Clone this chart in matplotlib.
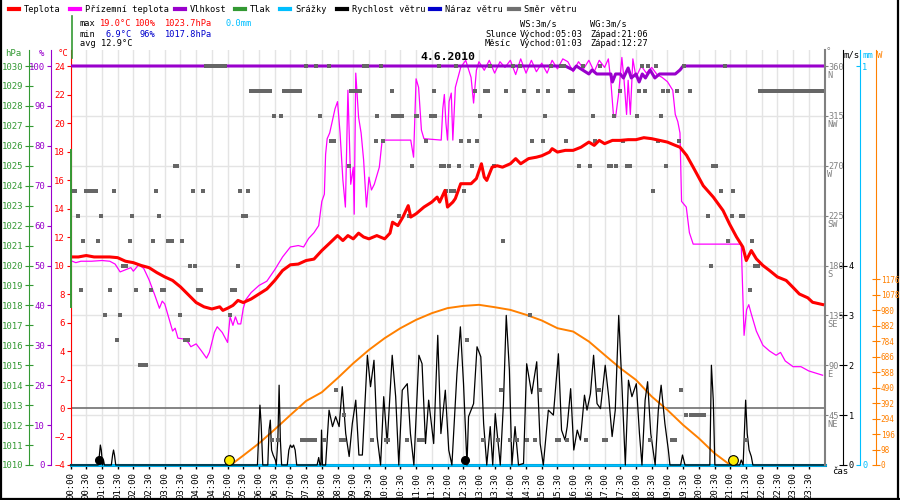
import matplotlib
matplotlib.use('Agg')
import matplotlib.pyplot as plt
from matplotlib.lines import Line2D

# ---------------- data ----------------
temp_t = [0.0, 0.25, 0.5, 0.75, 1.0, 1.25, 1.5, 1.75, 2.0, 2.25, 2.5, 2.75, 3.0, 3.25, 3.5, 3.75,
          4.0, 4.25, 4.5, 4.75, 4.85, 5.0, 5.17, 5.33, 5.5, 5.75, 6.0, 6.25, 6.5, 6.75, 7.0, 7.25,
          7.5, 7.75, 8.0, 8.25, 8.5, 8.67, 8.83, 9.0, 9.17, 9.33, 9.5, 9.75, 10.0, 10.17, 10.25,
          10.42, 10.58, 10.75, 10.83, 11.0, 11.25, 11.5, 11.67, 11.75, 11.92, 12.0, 12.17, 12.25,
          12.42, 12.75, 12.92, 13.08, 13.17, 13.25, 13.42, 13.58, 13.75, 14.0, 14.17, 14.33, 14.58,
          14.83, 15.0, 15.25, 15.33, 15.5, 15.75, 16.0, 16.25, 16.5, 16.67, 16.83, 17.0, 17.25,
          17.5, 17.75, 18.0, 18.25, 18.5, 18.75, 19.0, 19.25, 19.4, 19.61, 19.82, 20.14, 20.46,
          20.77, 20.98, 21.2, 21.4, 21.51, 21.67, 21.83, 22.04, 22.25, 22.5, 22.78, 22.99, 23.2,
          23.47, 23.62, 23.94]
temp_v = [10.6, 10.6, 10.7, 10.6, 10.6, 10.6, 10.55, 10.3, 10.2, 10.0, 9.85, 9.5, 9.2, 8.95, 8.5, 7.95,
          7.4, 7.1, 6.95, 7.1, 6.85, 7.0, 7.2, 7.55, 7.4, 7.65, 8.0, 8.35, 8.95, 9.65, 10.05, 10.1,
          10.35, 10.45, 11.05, 11.57, 12.1, 11.75, 12.1, 11.87, 12.27, 12.0, 11.87, 12.1, 11.87, 12.27, 13.04,
          12.8, 13.4, 14.2, 13.4, 13.63, 14.1, 14.45, 14.8, 14.45, 15.27, 14.1, 14.45, 14.7,
          15.74, 15.74, 16.1, 17.14, 16.2, 15.97, 16.9, 17.0, 16.9, 17.14, 17.5, 17.14, 17.5,
          17.6, 17.7, 17.96, 18.2, 17.96, 18.08, 18.08, 18.3, 18.66, 18.43, 18.78, 18.55, 18.78,
          18.78, 18.83, 18.83, 18.97, 18.9, 18.78, 18.66, 18.43, 18.3, 17.73, 16.9, 15.6, 14.8,
          13.86, 12.9, 12.0, 11.3, 10.35, 11.05, 10.47, 10.0, 9.65, 9.2, 8.95, 8.48, 8.0,
          7.73, 7.42, 7.26]

app_t = [0.0, 0.17, 0.33, 0.67, 1.0, 1.25, 1.42, 1.58, 1.75, 1.92, 2.0, 2.17, 2.33, 2.5, 2.67, 2.83,
         2.92, 3.0, 3.17, 3.25, 3.33, 3.42, 3.58, 3.75, 3.83, 4.0, 4.17, 4.33, 4.42, 4.58, 4.67, 4.83,
         5.0, 5.08, 5.17, 5.25, 5.33, 5.42, 5.5, 5.58, 5.75, 6.0, 6.25, 6.5, 6.75, 7.0, 7.25, 7.42,
         7.58, 7.75, 7.9, 8.0, 8.08, 8.12, 8.17, 8.25, 8.42, 8.5, 8.58, 8.67, 8.75, 8.83, 8.92, 9.0,
         9.03, 9.08, 9.17, 9.25, 9.33, 9.42, 9.5, 9.58, 9.67, 9.83, 9.92, 10.5, 10.83, 10.92, 11.0,
         11.08, 11.17, 11.25, 11.8, 11.85, 11.9, 11.95, 12.0, 12.05, 12.12, 12.17, 12.25, 12.42,
         12.58, 12.75, 12.83, 12.92, 13.0, 13.17, 13.33, 13.5, 13.67, 13.83, 14.0, 14.17, 14.33,
         14.5, 14.67, 14.83, 15.0, 15.17, 15.33, 15.5, 15.67, 15.83, 16.0, 16.17, 16.33, 16.5,
         16.67, 16.83, 17.0, 17.12, 17.2, 17.28, 17.35, 17.45, 17.55, 17.62, 17.7, 17.75, 17.82,
         17.9, 18.0, 18.17, 18.33, 18.5, 18.67, 18.83, 19.0, 19.17, 19.25, 19.33, 19.4, 19.45,
         19.6, 19.7, 19.82, 21.35, 21.44, 21.52, 21.59, 21.67, 21.83, 22.04, 22.25, 22.46, 22.6,
         22.75, 23.0, 23.25, 23.5, 23.94]
app_v = [10.35, 10.2, 10.3, 10.3, 10.35, 10.3, 10.1, 9.55, 9.7, 9.85, 9.6, 10.05, 9.8, 9.0, 8.0, 7.0,
         7.5, 7.3, 6.0, 5.4, 5.6, 4.9, 4.85, 4.6, 4.3, 4.5, 4.0, 3.5, 3.9, 5.3, 5.7, 5.3,
         4.6, 6.4, 5.8, 6.4, 5.9, 5.9, 7.0, 7.6, 8.1, 8.6, 8.9, 9.7, 10.6, 11.3, 11.4, 11.3,
         11.9, 12.3, 12.8, 14.5, 15.0, 17.8, 18.9, 19.3, 21.0, 21.5, 19.3, 16.0, 14.1, 22.3, 15.7, 16.9,
         13.6, 23.5, 20.4, 19.3, 17.4, 14.1, 16.2, 15.3, 15.7, 16.9, 18.8, 18.8, 18.8, 17.6, 23.1,
         22.5, 19.5, 18.9, 18.8, 21.0, 22.0, 20.0, 18.8, 21.5, 22.1, 18.8, 22.5, 23.9,
         24.4, 23.2, 21.4, 23.7, 24.3, 23.7, 24.4, 23.5, 24.3, 23.9, 24.4, 23.4, 24.5,
         23.5, 24.4, 23.6, 24.2, 23.5, 24.4, 23.8, 24.5, 24.3, 23.6, 24.3, 23.8, 24.4,
         23.6, 24.4, 23.9, 24.5, 22.9, 20.6, 20.4, 22.1, 24.6, 23.0, 20.6, 23.0, 20.6,
         24.5, 23.2, 24.0, 23.5, 23.9, 23.4, 23.2, 22.9, 22.3, 20.6, 20.1, 19.3, 14.5,
         14.1, 12.3, 11.5, 11.5, 5.1, 6.9, 7.25, 6.6, 5.4, 4.4, 4.0, 3.7, 3.9,
         3.3, 2.9, 2.9, 2.6, 2.3]

hum_t = [0.0, 15.75, 16.0, 16.1, 16.3, 16.5, 16.6, 16.75, 17.0, 17.2, 17.25, 17.35, 17.5, 17.6,
         17.75, 17.85, 18.0, 18.1, 18.2, 18.3, 18.45, 18.6, 18.75, 19.0, 19.25, 19.4, 19.5, 24.0]
hum_v = [100, 100, 99, 100, 99, 98, 99, 98, 98, 98, 96, 98, 98, 97,
         99.5, 97, 98, 96, 98, 97, 99, 97, 98, 98, 98, 99, 100, 100]

wind_t = [0.0, 0.88, 0.92, 0.95, 0.98, 1.02, 1.05, 1.08, 1.3, 1.34, 1.37, 1.4, 1.44, 5.95, 5.99,
          6.03, 6.07, 6.12, 6.28, 6.32, 6.36, 6.4, 6.45, 6.52, 6.55, 6.6, 6.64, 6.68, 6.72, 6.9,
          6.95, 7.0, 7.05, 7.1, 7.15, 7.2, 7.85, 7.9, 7.94, 7.97, 7.99, 8.02, 8.12, 8.23, 8.34,
          8.44, 8.55, 8.65, 8.76, 8.87, 8.97, 9.08, 9.18, 9.29, 9.45, 9.55, 9.66, 9.76, 9.87,
          9.97, 10.08, 10.24, 10.35, 10.45, 10.56, 10.72, 10.82, 10.93, 11.09, 11.19, 11.3, 11.4,
          11.56, 11.69, 11.79, 11.93, 12.04, 12.14, 12.3, 12.41, 12.51, 12.62, 12.67, 12.83,
          12.94, 13.06, 13.15, 13.25, 13.36, 13.44, 13.52, 13.68, 13.78, 13.87, 13.97, 14.05,
          14.15, 14.26, 14.42, 14.52, 14.68, 14.84, 14.95, 15.05, 15.21, 15.37, 15.53, 15.63,
          15.74, 15.81, 15.92, 16.02, 16.13, 16.23, 16.36, 16.44, 16.55, 16.65, 16.76, 16.87,
          17.02, 17.13, 17.24, 17.34, 17.45, 17.55, 17.66, 17.76, 17.87, 18.01, 18.11, 18.19,
          18.29, 18.37, 18.47, 18.61, 18.71, 18.8, 18.92, 19.03, 19.08, 19.42, 19.48, 19.56,
          20.35, 20.4, 20.46, 20.51, 21.3, 21.35, 21.41, 21.46, 21.49, 21.54, 21.6, 21.67, 21.72,
          24.0]
wind_v = [0, 0, 0.2, 0.4, 0.3, 0, 0.1, 0, 0, 0.2, 0.3, 0.2, 0, 0, 0.6,
          1.2, 0.8, 0, 0, 0.7, 0.9, 0.3, 0.2, 0.1, 0, 0.5, 1.6, 0.5, 0, 0,
          0.3, 0.4, 0.35, 0.4, 0.3, 0, 0, 0.15, 0, 0, 0.7, 0, 0, 1.1, 0.77,
          0.97, 0.77, 1.57, 0.63, 0.17, 0.83, 1.3, 0.2, 0.2, 2.2, 1.57, 2.1, 0.57, 0,
          1.37, 0.43, 2.2, 1.37, 0, 1.5, 1.63, 0.63, 0, 2.2, 2.03, 0.43, 1.3,
          0.43, 2.6, 0.63, 1.5, 0.3, 0, 1.83, 2.77, 1.63, 0, 0.97, 1.23,
          2.37, 2.17, 0.83, 0, 0.77, 0, 1.03, 0, 1.23, 3.0, 1.9, 0,
          0.77, 0, 0.03, 2.03, 1.43, 2.07, 0.43, 0, 1.1, 1.0, 2.23, 0.7,
          0.5, 0.77, 1.53, 0.3, 0.7, 0.5, 1.4, 1.1, 1.43, 2.2, 1.23, 1.13,
          2.0, 1.37, 0.57, 1.1, 3.0, 1.63, 0, 1.7, 1.37, 1.63, 0.63, 0,
          1.3, 1.67, 0.63, 0, 1.1, 1.6, 0.83, 0.3, 0, 0, 0.2, 0,
          0, 2.0, 1.3, 0, 0, 0.1, 0, 0.83, 1.3, 0.63, 0.3, 0.17, 0,
          0]

dir_t = [0.0, 0.13, 0.23, 0.32, 0.39, 0.5, 0.6, 0.7, 0.8, 0.89, 0.97, 1.11, 1.26, 1.4, 1.49, 1.56,
         1.66, 1.76, 1.89, 1.97, 2.07, 2.2, 2.3, 2.4, 2.57, 2.64, 2.73, 2.83, 2.9, 2.98, 3.1, 3.22,
         3.32, 3.4, 3.5, 3.55, 3.65, 3.75, 3.81, 3.89, 3.96, 4.06, 4.16, 4.23, 4.32, 4.42, 4.52,
         4.62, 4.72, 4.82, 4.92, 5.07, 5.15, 5.25, 5.32, 5.4, 5.5, 5.58, 5.66, 5.76, 5.86, 5.96,
         6.06, 6.16, 6.26, 6.36, 6.42, 6.48, 6.59, 6.7, 6.8, 6.9, 7.0, 7.1, 7.2, 7.3, 7.38, 7.48,
         7.58, 7.68, 7.78, 7.49, 7.8, 7.93, 8.07, 8.23, 8.3, 8.4, 8.44, 8.6, 8.7, 8.7, 8.87, 8.92,
         9.02, 9.12, 9.22, 9.34, 9.44, 9.6, 9.71, 9.76, 9.87, 9.96, 10.05, 10.12, 10.22, 10.26,
         10.36, 10.46, 10.56, 10.45, 10.7, 10.79, 10.87, 10.99, 11.04, 11.1, 11.22, 11.32, 11.46,
         11.6, 11.56, 11.72, 11.8, 11.9, 11.94, 12.04, 12.1, 12.2, 12.27, 12.38, 12.44, 12.53,
         12.62, 12.7, 12.79, 12.88, 12.94, 13.04, 13.12, 13.2, 13.3, 13.36, 13.47, 13.62, 13.7,
         13.76, 13.87, 14.0, 14.2, 14.1, 14.3, 14.44, 14.54, 14.63, 14.68, 14.79, 14.88, 14.94,
         15.03, 15.1, 15.19, 15.28, 15.47, 15.55, 15.6, 15.7, 15.78, 15.81, 15.9, 16.0, 16.18,
         16.32, 16.4, 16.55, 16.63, 16.71, 16.81, 16.87, 16.97, 17.05, 17.13, 17.2, 17.31, 17.36,
         17.5, 17.6, 17.71, 17.81, 18.03, 18.11, 18.19, 18.29, 18.37, 18.43, 18.53, 18.64, 18.69,
         18.8, 18.85, 18.96, 19.03, 19.14, 19.24, 19.29, 19.37, 19.43, 19.53, 19.6, 19.72, 19.76,
         19.86, 19.96, 20.06, 20.16, 20.28, 20.38, 20.45, 20.55, 20.7, 20.83, 20.93, 21.04, 21.09,
         21.33, 21.42, 21.51, 21.62, 21.7, 21.78, 21.88, 21.95, 22.05, 22.15, 22.25, 22.35, 22.45,
         22.55, 22.65, 22.75, 22.85, 22.95, 23.05, 23.15, 23.25, 23.35, 23.45, 23.55, 23.65, 23.75,
         23.85, 23.95]
dir_v = [247.5, 247.5, 225, 157.5, 202.5, 247.5, 247.5, 247.5, 247.5, 202.5, 225, 135, 157.5, 247.5, 112.5, 135,
         180, 180, 202.5, 225, 157.5, 90, 90, 90, 157.5, 202.5, 247.5, 225, 157.5, 157.5, 202.5, 202.5,
         270, 270, 135, 202.5, 112.5, 112.5, 180, 247.5, 180, 157.5, 157.5, 247.5, 360, 360, 360,
         360, 360, 360, 360, 135, 157.5, 157.5, 180, 247.5, 225, 225, 247.5, 337.5, 337.5, 337.5,
         337.5, 337.5, 337.5, 337.5, 22.5, 315, 22.5, 315, 337.5, 337.5, 337.5, 337.5, 337.5, 337.5, 22.5, 22.5,
         22.5, 22.5, 22.5, 360, 360, 315, 22.5, 360, 292.5, 292.5, 67.5, 22.5, 22.5, 45, 270, 337.5,
         337.5, 337.5, 337.5, 360, 360, 22.5, 292.5, 315, 360, 292.5, 22.5, 22.5, 337.5, 315,
         315, 315, 315, 225, 22.5, 225, 270, 315, 315, 22.5, 22.5, 292.5, 315,
         315, 337.5, 360, 270, 270, 247.5, 270, 247.5, 247.5, 360, 270, 292.5, 247.5,
         112.5, 292.5, 270, 337.5, 292.5, 315, 22.5, 337.5, 337.5, 360, 270, 22.5, 67.5,
         202.5, 337.5, 22.5, 22.5, 360, 360, 337.5, 22.5, 135, 292.5, 22.5, 337.5, 67.5,
         292.5, 315, 337.5, 360, 22.5, 22.5, 360, 360, 292.5, 22.5, 337.5, 337.5, 270,
         360, 22.5, 270, 315, 292.5, 67.5, 360, 22.5, 22.5, 270, 270, 315, 270,
         337.5, 292.5, 270, 270, 315, 337.5, 360, 337.5, 360, 22.5, 247.5, 360, 292.5,
         315, 337.5, 270, 337.5, 22.5, 22.5, 337.5, 292.5, 67.5, 360, 45, 337.5, 45,
         45, 45, 45, 45, 225, 180, 270, 270, 247.5, 360, 202.5, 225, 247.5,
         225, 225, 22.5, 157.5, 202.5, 180, 180, 337.5, 337.5, 337.5, 337.5, 337.5, 337.5,
         337.5, 337.5, 337.5, 337.5, 337.5, 337.5, 337.5, 337.5, 337.5, 337.5, 337.5, 337.5, 337.5,
         337.5, 337.5]

sol_t = [5.1, 5.5, 6.0, 6.5, 7.0, 7.5, 8.0, 8.5, 9.0, 9.5, 10.0, 10.5, 11.0, 11.5, 12.0, 12.5,
         13.0, 13.5, 14.0, 14.5, 15.0, 15.5, 16.0, 16.5, 17.0, 17.5, 18.0, 18.5, 19.0, 19.5,
         20.0, 20.5, 21.0]
sol_v = [0, 60, 137, 225, 316, 405, 460, 549, 643, 728, 802, 865, 918, 960, 992, 1006,
         1013, 998, 981, 950, 914, 865, 844, 781, 696, 612, 538, 433, 348, 253,
         169, 74, 0]

rain_t = [0.0, 24.0]
rain_v = [0.0, 0.0]

sun_t = [5.05, 21.1]
moon_t = [0.9, 12.57]

time_ticks = [i * 0.5 for i in range(48)]
time_labels = ["%02d:%02d" % (int(h), 30 if h % 1 else 0) for h in time_ticks]
dir_ticks = [45, 90, 135, 180, 225, 270, 315, 360]
dir_names = ['NE', 'E', 'SE', 'S', 'SW', 'W', 'NW', 'N']

legend_items = [("Teplota", '#ff0000'), ("Přízemní teplota", '#ff00ff'), ("Vlhkost", '#9900cc'),
                ("Tlak", '#339933'), ("Srážky", '#00bfff'), ("Rychlost větru", '#000000'),
                ("Náraz větru", '#0000cc'), ("Směr větru", '#707070')]
legend_x = [9, 70, 175, 235, 280, 337, 430, 509]

# ---------------- layout ----------------
W, H = 900, 500
fig = plt.figure(figsize=(9, 5), dpi=100)
fig.patch.set_facecolor('white')
MONO = 'DejaVu Sans Mono'
plt.rcParams['font.family'] = MONO

def fx(px): return px / W
def fy(py): return 1 - py / H

L, R, T, B = 70.5, 824.5, 50.0, 465.0
PXC = 14.25
CB = -4.0
CT = CB + (B - T) / PXC
PT = 0.72  # points per pixel

def lim(v0, v24):
    return (v0, v0 + (v24 - v0) * (CT - CB) / 28.0)

ax = fig.add_axes([fx(L), fy(B), (R - L) / W, (B - T) / H])
ax.set_zorder(0)
ax.set_facecolor('white')
ax.set_xlim(0, 24)
ax.set_ylim(CB, CT)
for t in time_ticks:
    ax.axvline(t, color='#e4e4e4', lw=1, zorder=0)
for d in dir_ticks[:-1]:
    ax.axhline(CB + d / 360 * 28, color='#e4e4e4', lw=1, zorder=0)
ax.axhline(0, color='#707070', lw=1.2, zorder=1)
for s in ['top', 'right']:
    ax.spines[s].set_visible(False)
ax.spines['left'].set_color('#ff0000')
ax.spines['bottom'].set_color('black')
ax.spines['bottom'].set_linewidth(2.2)
ax.set_yticks(list(range(-4, 25, 2)))
ax.tick_params(axis='y', colors='#ff0000', direction='out', length=3, pad=1, labelsize=6.5)
ax.set_xticks(time_ticks)
ax.set_xticklabels(time_labels, rotation=90, fontsize=6.5)
ax.tick_params(axis='x', direction='out', length=3, pad=2, width=1)

def twin(z):
    a = ax.twinx()
    a.set_zorder(z)
    a.patch.set_visible(False)
    for s in a.spines.values():
        s.set_visible(False)
    a.set_xlim(0, 24)
    return a

# pressure (scale only)
ax_p = twin(1)
ax_p.set_ylim(*lim(1010, 1030))
ax_p.yaxis.tick_left()
ax_p.spines['left'].set_visible(True)
ax_p.spines['left'].set_position(('outward', (L - 29) * PT))
ax_p.spines['left'].set_color('#339933')
ax_p.set_yticks(list(range(1010, 1031)))
ax_p.tick_params(axis='y', colors='#339933', direction='inout', length=6, pad=1, labelsize=6.5)

# solar
ax_s = twin(2)
ax_s.set_ylim(*lim(0, 1176 * 28 / 13.05))
ax_s.plot(sol_t, sol_v, color='#ff8000', lw=1.4, clip_on=False)
ax_s.spines['right'].set_visible(True)
ax_s.spines['right'].set_position(('outward', (876 - R) * PT))
ax_s.spines['right'].set_color('#ff8000')
ax_s.set_yticks(list(range(0, 1177, 98)))
ax_s.tick_params(axis='y', colors='#ff8000', direction='inout', length=6, pad=0.5, labelsize=5.6)

# rain
ax_r = twin(3)
ax_r.set_ylim(*lim(0, 1))
ax_r.plot(rain_t, rain_v, color='#00bfff', lw=2, clip_on=False)
ax_r.spines['right'].set_visible(True)
ax_r.spines['right'].set_position(('outward', (860 - R) * PT))
ax_r.spines['right'].set_color('#00bfff')
ax_r.set_yticks([0, 1])
ax_r.tick_params(axis='y', colors='#00bfff', direction='in', length=3, pad=1.5, labelsize=6.2)

# wind speed
ax_w = twin(4)
ax_w.set_ylim(*lim(0, 8))
ax_w.plot(wind_t, wind_v, color='black', lw=0.9, clip_on=False)
ax_w.spines['right'].set_visible(True)
ax_w.spines['right'].set_position(('outward', (843 - R) * PT))
ax_w.spines['right'].set_color('black')
ax_w.set_yticks([0, 1, 2, 3, 4])
ax_w.tick_params(axis='y', colors='black', direction='inout', length=6, pad=1, labelsize=6.2)

# apparent temperature
ax_a = twin(5)
ax_a.set_ylim(CB, CT)
ax_a.set_yticks([])
ax_a.plot(app_t, app_v, color='#ff00ff', lw=0.9)

# humidity
ax_h = twin(6)
ax_h.set_ylim(*lim(0, 100))
ax_h.plot(hum_t, hum_v, color='#9900cc', lw=2.2)
ax_h.yaxis.tick_left()
ax_h.spines['left'].set_visible(True)
ax_h.spines['left'].set_position(('outward', (L - 50.5) * PT))
ax_h.spines['left'].set_color('#9900cc')
ax_h.set_yticks(list(range(0, 101, 10)))
ax_h.tick_params(axis='y', colors='#9900cc', direction='out', length=3, pad=1, labelsize=6.5)

# wind direction
ax_d = twin(7)
ax_d.set_ylim(*lim(0, 360))
ax_d.plot(dir_t, dir_v, 's', color='#666666', ms=3.4, mew=0)
ax_d.spines['right'].set_visible(True)
ax_d.spines['right'].set_color('#808080')
ax_d.spines['right'].set_linewidth(1.5)
ax_d.set_yticks(dir_ticks)
ax_d.tick_params(axis='y', colors='#808080', direction='out', length=2, pad=1, labelsize=6.2)
for d, n in zip(dir_ticks, dir_names):
    ax_d.annotate(n, xy=(1, d), xycoords=('axes fraction', 'data'), xytext=(2, -6.5),
                  textcoords='offset points', ha='left', va='center', fontsize=6.2, color='#808080')

# temperature + markers
ax_t = twin(8)
ax_t.set_ylim(CB, CT)
ax_t.set_yticks([])
ax_t.plot(temp_t, temp_v, color='#ff0000', lw=2.2)
ax_t.plot(sun_t, [CB + 0.33] * len(sun_t), 'o', ms=7, color='#ffee00', mec='black', mew=0.8, clip_on=False)
ax_t.plot(moon_t, [CB + 0.33] * len(moon_t), 'o', ms=5.5, color='black', clip_on=False)

# odd green pressure trace on the left edge
fig.add_artist(Line2D([fx(71.5), fx(71.5)], [fy(16), fy(58)], color='#339933', lw=1.2))
fig.add_artist(Line2D([fx(L), fx(L)], [fy(150), fy(307)], color='#339933', lw=1.4, zorder=20))

# headers
hdr = dict(fontsize=6.5, va='center', family=MONO)
fig.text(fx(13), fy(54), 'hPa', color='#339933', ha='center', **hdr)
fig.text(fx(42), fy(54), '%', color='#9900cc', ha='center', **hdr)
fig.text(fx(63), fy(54), '°C', color='#ff0000', ha='center', **hdr)
fig.text(fx(828), fy(52), '°', color='#808080', ha='center', **hdr)
fig.text(fx(852), fy(55), 'm/s', color='black', ha='center', **hdr)
fig.text(fx(868), fy(55), 'mm', color='#00bfff', ha='center', **hdr)
fig.text(fx(880), fy(55), 'W', color='#ff8000', ha='center', **hdr)
fig.text(fx(840), fy(472), 'čas', color='black', ha='center', **hdr)

# legend
for (name, col), x0 in zip(legend_items, legend_x):
    fig.add_artist(Line2D([fx(x0), fx(x0 + 10)], [fy(9), fy(9)], color=col, lw=3))
    fig.text(fx(x0 + 15), fy(9), name, fontsize=6.2, va='center', ha='left', color='black')

# stats
st = dict(fontsize=6.2, va='center', ha='left')
fig.text(fx(80), fy(24), 'max', color='black', **st)
fig.text(fx(100), fy(24), '19.0°C', color='#ff0000', **st)
fig.text(fx(135), fy(24), '100%', color='#ff0000', **st)
fig.text(fx(165), fy(24), '1023.7hPa', color='#ff0000', **st)
fig.text(fx(226), fy(24), '0.0mm', color='#00bfff', **st)
fig.text(fx(80), fy(34), 'min', color='black', **st)
fig.text(fx(105), fy(34), '6.9°C', color='#0000cc', **st)
fig.text(fx(140), fy(34), '96%', color='#0000cc', **st)
fig.text(fx(165), fy(34), '1017.8hPa', color='#0000cc', **st)
fig.text(fx(80), fy(44), 'avg 12.9°C', color='black', **st)
fig.text(fx(520), fy(24), 'WS:3m/s', color='black', **st)
fig.text(fx(590), fy(24), 'WG:3m/s', color='black', **st)
fig.text(fx(485), fy(34), 'Slunce', color='black', **st)
fig.text(fx(520), fy(34), 'Východ:05:03', color='black', **st)
fig.text(fx(590), fy(34), 'Západ:21:06', color='black', **st)
fig.text(fx(485), fy(44), 'Měsíc', color='black', **st)
fig.text(fx(520), fy(44), 'Východ:01:03', color='black', **st)
fig.text(fx(590), fy(44), 'Západ:12:27', color='black', **st)

fig.text(fx(448), fy(57), '4.6.2010', fontsize=8.2, fontweight='bold', ha='center', va='center', color='black')

# outer frame (left, bottom, right)
for xs, ys in [([0.001, 0.001], [0, 1]), ([0, 1], [0.002, 0.002]), ([0.998, 0.998], [0, 1])]:
    fig.add_artist(Line2D(xs, ys, color='black', lw=1.6))

fig.savefig('out.png', dpi=100, facecolor='white')
